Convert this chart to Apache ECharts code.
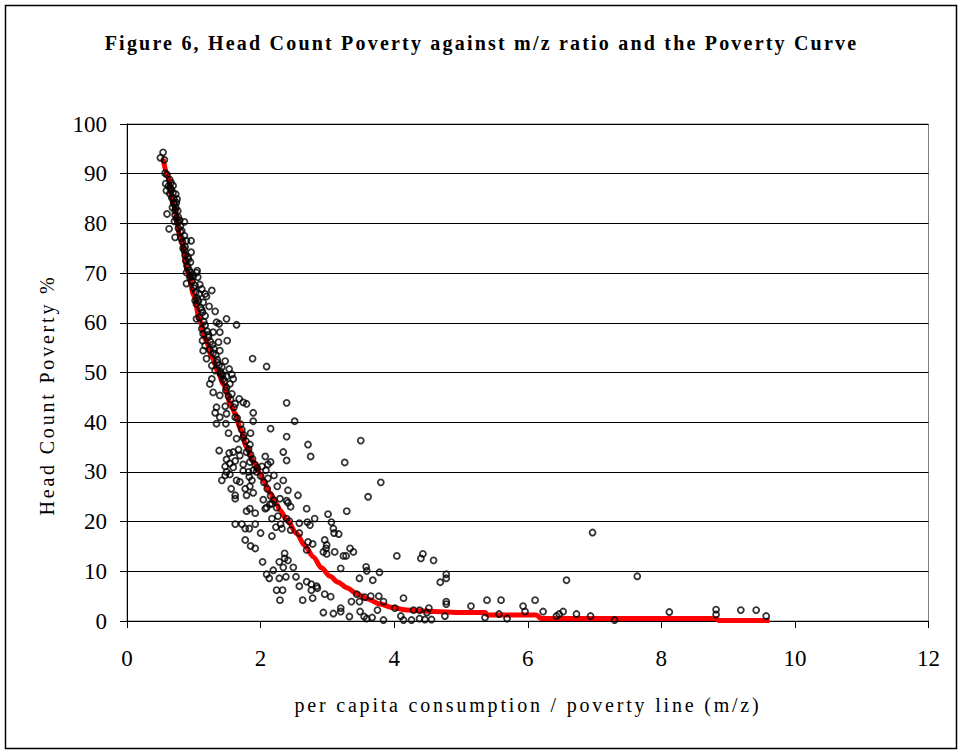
<!DOCTYPE html>
<html>
<head>
<meta charset="utf-8">
<title>Head Count Poverty against m/z ratio</title>
<script src="https://cdn.jsdelivr.net/npm/echarts@6/dist/echarts.min.js"></script>
<style>
  html, body { margin: 0; padding: 0; background: #fff; }
  #chart { width: 963px; height: 751px; }
</style>
</head>
<body>
<div id="chart"></div>
<script>
// Observations: per capita consumption / poverty line (m/z) and head count poverty (%)
const mzRatio = [
  0.54,0.50,0.56,0.57,0.60,0.66,0.69,0.65,0.59,0.73,0.64,0.75,0.70,0.68,0.73,0.76,0.60,0.72,0.77,0.71,0.86,0.63,0.80,0.82,0.72,0.86,0.96,0.89,0.87,0.96,0.91,0.95,0.91,1.05,0.95,1.06,0.94,
  0.58,0.62,0.64,0.66,0.67,0.69,0.70,0.71,0.72,0.74,0.74,0.76,0.77,0.79,0.80,0.81,0.83,0.84,0.86,0.87,0.88,0.90,0.92,0.93,0.95,0.97,0.99,1.00,1.03,1.05,1.07,1.10,1.12,1.15,1.17,1.20,1.22,1.25,1.28,1.30,1.33,1.35,1.38,1.40,1.43,1.46,1.48,1.52,1.55,1.60,1.65,1.70,1.72,1.75,1.78,1.82,1.85,1.88,1.92,1.95,2.00,2.05,2.10,2.15,2.20,
  0.89,1.04,0.89,0.97,1.02,1.09,1.12,1.17,1.27,1.19,1.08,1.02,1.04,1.14,1.23,1.32,1.13,1.17,1.04,1.08,1.49,1.34,1.38,1.64,1.12,1.39,1.29,1.14,1.22,1.50,1.37,1.13,1.17,1.14,1.24,1.29,1.39,1.88,2.09,1.19,1.35,1.47,1.27,1.42,1.53,1.32,1.40,1.49,1.57,1.44,1.59,1.27,1.24,1.54,1.49,1.29,1.39,1.57,1.68,1.74,1.62,1.79,1.34,1.47,
  1.32,1.49,1.89,2.39,2.51,1.39,1.34,1.48,1.62,1.89,2.15,1.52,1.85,2.39,1.64,1.74,1.84,2.71,2.75,1.38,1.53,1.59,1.67,1.69,1.79,2.34,2.39,2.07,1.49,1.54,1.62,1.84,1.74,2.15,2.11,2.02,1.47,1.59,1.49,1.74,1.82,1.89,1.94,2.08,2.20,1.47,1.54,1.42,1.64,1.69,1.87,1.83,2.11,2.34,2.25,1.56,1.77,1.84,2.41,1.89,1.79,1.62,1.62,2.56,2.04,2.29,2.39,2.17,1.84,2.09,2.24,2.69,
  2.14,2.07,2.41,2.45,3.01,3.29,3.61,1.79,1.92,2.26,2.17,2.39,2.43,2.58,2.70,2.74,2.81,1.62,1.72,1.77,1.83,1.92,2.00,2.17,2.30,2.32,2.23,2.45,2.58,3.06,3.09,3.10,3.17,1.77,1.85,1.92,2.71,2.78,2.69,2.94,2.96,2.99,2.98,3.11,3.34,3.39,3.24,3.28,2.03,2.36,2.36,2.41,2.28,2.49,2.34,2.19,2.09,2.13,2.28,2.38,2.53,3.20,3.58,3.59,3.48,2.69,2.58,2.76,2.84,2.85,2.76,2.24,2.33,2.29,2.63,2.78,2.96,3.05,3.44,3.36,3.56,3.20,3.20,2.94,3.09,3.33,3.49,3.55,3.59,
  3.50,3.26,3.80,2.99,4.04,4.40,4.43,4.59,3.78,3.68,4.78,4.78,4.69,3.48,3.65,3.67,3.77,3.84,3.75,3.84,4.01,4.14,4.10,4.14,4.26,4.29,4.38,4.38,4.49,4.52,4.46,4.56,4.76,4.78,4.78,
  6.97,6.58,7.64,5.15,5.39,5.60,5.36,5.57,5.69,5.93,5.96,6.11,6.23,6.43,6.47,6.53,6.73,6.94,7.30,
  8.12,8.82,8.82,9.19,9.42,9.57
];
const headCount = [
  94.3,93.2,92.8,90.1,89.8,88.2,87.6,87.1,86.6,85.9,86.0,84.9,84.2,83.2,83.2,82.5,81.9,81.7,81.2,80.4,80.3,78.9,79.5,78.5,77.2,77.5,76.5,76.5,75.3,74.2,73.2,72.2,71.2,70.5,70.1,69.2,69.2,
  88.0,87.5,88.8,86.8,85.2,86.2,85.0,83.9,82.6,84.2,81.0,80.2,79.0,80.6,78.3,77.0,76.3,75.0,74.6,73.6,72.5,71.5,72.8,70.6,69.6,68.3,69.3,67.0,66.2,65.0,64.4,63.0,62.6,60.2,59.5,58.3,57.6,56.2,55.6,54.8,53.5,52.0,51.5,50.2,49.5,48.2,46.4,45.2,44.6,43.0,40.8,39.6,38.5,37.4,36.2,34.6,33.5,32.6,31.4,30.8,29.2,27.9,26.6,25.2,24.3,
  70.1,70.1,67.9,68.5,67.5,67.7,66.8,65.8,66.5,65.3,65.8,64.5,63.8,64.1,63.3,62.3,62.1,61.4,60.8,61.1,60.8,60.1,59.8,59.6,58.8,58.1,58.1,57.8,57.1,56.4,56.1,56.4,55.4,54.4,54.6,53.9,54.4,52.8,51.2,52.8,52.6,52.3,51.4,51.1,50.7,50.4,49.7,49.2,49.6,48.7,48.7,48.7,47.7,47.7,47.0,46.0,45.4,45.7,44.7,44.0,43.7,43.7,43.0,43.2,
  41.9,41.7,41.9,43.9,40.2,41.0,39.7,39.7,41.0,40.2,38.7,37.8,37.8,37.1,36.7,36.9,35.5,35.5,33.1,34.3,33.8,34.0,34.5,33.3,34.0,34.0,32.3,33.1,32.5,31.7,32.2,32.0,31.5,32.0,31.5,31.1,31.1,30.9,30.0,30.2,30.0,30.3,30.0,30.3,29.3,29.3,29.5,28.3,28.3,28.0,28.3,29.0,28.7,28.3,27.1,26.6,26.6,27.1,26.3,25.8,25.3,25.3,24.6,25.3,24.4,24.6,24.2,23.6,22.6,22.8,22.8,22.6,
  23.5,22.6,23.8,23.0,21.5,22.1,25.0,22.1,21.7,21.1,20.6,20.6,20.1,19.7,19.9,19.3,20.6,19.5,19.5,18.6,18.6,19.5,17.7,17.1,19.5,18.6,18.9,18.3,17.7,19.9,18.6,17.7,17.5,16.3,15.1,14.6,15.9,15.5,14.3,13.9,16.3,15.3,14.6,13.9,14.6,13.9,13.1,13.1,11.9,13.6,12.6,12.2,11.9,10.8,10.8,10.2,9.4,8.6,8.6,8.9,8.9,10.6,10.9,10.1,8.6,7.9,7.0,7.4,7.0,6.6,6.2,6.2,6.2,4.2,4.2,4.6,5.4,4.9,5.4,3.9,4.8,2.6,1.9,1.7,1.5,0.9,1.9,0.9,0.5,
  36.3,31.9,27.9,13.5,13.1,12.6,13.5,12.2,9.8,8.2,9.4,8.6,7.8,3.9,5.0,0.7,5.0,3.9,2.2,0.2,2.6,4.6,1.0,0.2,0.2,2.2,2.2,0.5,1.7,2.6,0.3,0.3,1.0,3.9,3.4,
  17.8,8.2,9.0,3.0,4.2,4.2,0.7,1.4,0.5,3.0,1.9,4.2,1.9,1.0,1.4,1.9,1.4,1.0,0.2,
  1.8,2.3,1.3,2.2,2.2,1.0
];

// The poverty curve
const curveMz = [0.54,0.60,0.70,0.80,0.92,1.00,1.09,1.18,1.27,1.36,1.44,1.57,1.62,1.70,1.79,1.90,1.99,2.04,2.14,2.24,2.29,2.40,2.54,2.66,2.79,2.91,3.04,3.16,3.29,3.44,3.59,3.79,3.98,4.19,4.59,5.00,5.36,5.40,6.13,6.20,8.82,8.86,9.62];
const curveHeadCount = [93.0,89.9,83.5,77.2,69.8,65.5,60.4,56.6,53.1,50.3,47.7,43.0,41.7,38.6,35.0,32.0,29.7,28.3,25.8,23.5,22.3,20.2,17.6,15.2,12.9,10.7,9.0,7.8,6.7,5.5,4.5,3.4,2.7,2.2,1.9,1.7,1.7,1.2,1.2,0.5,0.5,0.1,0.1];

const titleText = 'Figure 6, Head Count Poverty against m/z ratio and the Poverty Curve';
const xName = 'per capita consumption / poverty line (m/z)';
const yName = 'Head Count Poverty %';

const serif = "'Liberation Serif', 'Times New Roman', serif";

const points = mzRatio.map((x, i) => [x, headCount[i]]);
const curve = curveMz.map((x, i) => [x, curveHeadCount[i]]);

const chart = echarts.init(document.getElementById('chart'), null, { renderer: 'svg' });

chart.setOption({
  animation: false,
  backgroundColor: '#ffffff',
  grid: {
    left: 127, right: 34.5, top: 124, bottom: 130,
    show: true, borderColor: '#808080', borderWidth: 1, backgroundColor: 'transparent'
  },
  xAxis: {
    type: 'value', min: 0, max: 12, interval: 2,
    axisLine: { lineStyle: { color: '#000', width: 1 } },
    axisTick: { show: true, inside: false, length: 7, lineStyle: { color: '#000', width: 1 } },
    axisLabel: { color: '#000', fontFamily: serif, fontSize: 23, margin: 26 },
    splitLine: { show: false }
  },
  yAxis: {
    type: 'value', min: 0, max: 100, interval: 10,
    axisLine: { show: true, lineStyle: { color: '#000', width: 1 } },
    axisTick: { show: true, inside: false, length: 7, lineStyle: { color: '#000', width: 1 } },
    axisLabel: { color: '#000', fontFamily: serif, fontSize: 23, margin: 20 },
    splitLine: { show: true, lineStyle: { color: '#000', width: 1 } }
  },
  graphic: [
    {
      type: 'rect', silent: true, z: 100,
      shape: { x: 5.5, y: 5.5, width: 951, height: 743 },
      style: { fill: 'none', stroke: '#000', lineWidth: 1.5 }
    },
    {
      type: 'text', silent: true, id: 'chartTitle',
      x: 481.5, y: 43,
      style: { text: titleText, fill: '#000', font: "bold 20px " + serif, textAlign: 'center', textVerticalAlign: 'middle' }
    },
    {
      type: 'text', silent: true, id: 'xName',
      x: 528, y: 705,
      style: { text: xName, fill: '#000', font: "20px " + serif, textAlign: 'center', textVerticalAlign: 'middle' }
    },
    {
      type: 'text', silent: true, id: 'yName',
      x: 47, y: 395, rotation: Math.PI / 2,
      style: { text: yName, fill: '#000', font: "20px " + serif, textAlign: 'center', textVerticalAlign: 'middle' }
    }
  ],
  series: [
    {
      name: 'Poverty Curve',
      type: 'line',
      data: curve,
      showSymbol: false,
      smooth: 0.3,
      smoothMonotone: 'x',
      lineStyle: { color: '#ff0000', width: 5 },
      z: 2
    },
    {
      name: 'Head Count Poverty',
      type: 'scatter',
      data: points,
      symbol: 'circle',
      symbolSize: 6,
      itemStyle: { color: 'transparent', borderColor: '#000', borderWidth: 1.8 },
      z: 3
    }
  ]
});

// Spaced lettering for the title and axis names
function spaceLetters() {
  const spacing = {};
  spacing[titleText] = 2.2;
  spacing[xName] = 2.8;
  spacing[yName] = 2.8;
  document.querySelectorAll('#chart text').forEach(t => {
    const s = spacing[t.textContent];
    if (s !== undefined) t.setAttribute('letter-spacing', s);
  });
}
spaceLetters();
chart.on('finished', spaceLetters);
</script>
</body>
</html>
